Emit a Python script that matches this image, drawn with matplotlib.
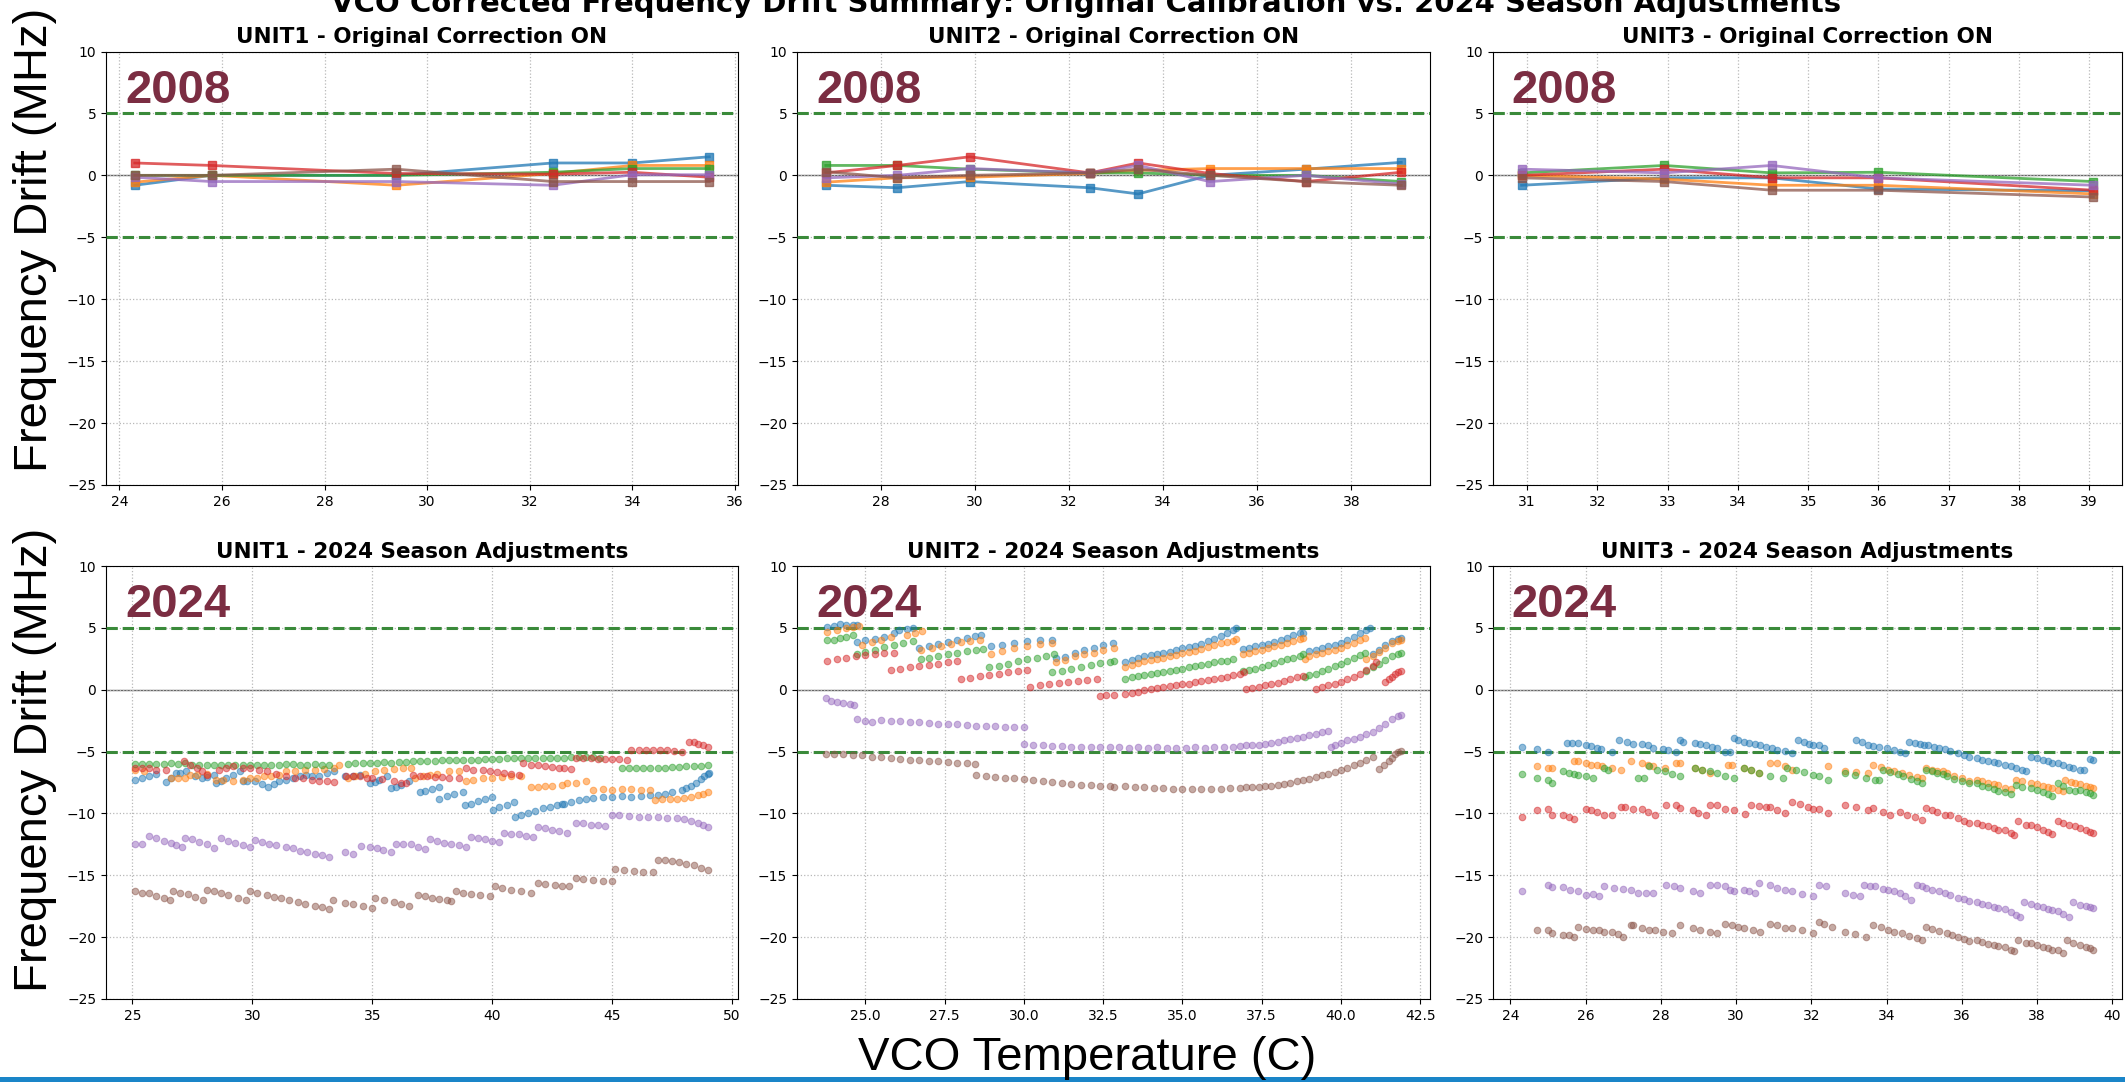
import matplotlib.pyplot as plt
from matplotlib.patches import Rectangle

W, H = 2125, 1082

UNITS = ['UNIT1', 'UNIT2', 'UNIT3']
CHANNEL_COLORS = ['tab:blue', 'tab:orange', 'tab:green', 'tab:red', 'tab:purple', 'tab:brown']

# --- 2008 original calibration, corrected drift at each temperature step ---
U1_2008_TEMP = [24.3, 25.8, 29.4, 32.45, 34.0, 35.5]
U1_2008_DRIFT = [
    [-0.8, 0.0, 0.0, 1.0, 1.0, 1.5],
    [-0.55, 0.0, -0.8, 0.15, 0.8, 0.8],
    [0.0, 0.0, 0.0, 0.25, 0.55, 0.55],
    [1.0, 0.8, 0.15, 0.1, 0.25, -0.15],
    [-0.15, -0.5, -0.5, -0.8, 0.05, 0.05],
    [0.0, 0.0, 0.5, -0.5, -0.5, -0.5],
]

U2_2008_TEMP = [26.83, 28.35, 29.89, 32.44, 33.47, 34.99, 37.03, 39.06]
U2_2008_DRIFT = [
    [-0.8, -1.0, -0.5, -1.0, -1.5, 0.0, 0.5, 1.05],
    [-0.55, -0.2, -0.15, 0.15, 0.4, 0.55, 0.55, 0.55],
    [0.8, 0.8, 0.5, 0.2, 0.2, 0.0, 0.0, -0.5],
    [0.2, 0.8, 1.5, 0.2, 1.0, 0.15, -0.5, 0.25],
    [-0.2, 0.0, 0.55, 0.2, 0.8, -0.5, 0.0, -0.7],
    [0.3, -0.2, 0.0, 0.2, 0.5, 0.0, -0.5, -0.8],
]

U3_2008_TEMP = [30.92, 32.95, 34.48, 36.0, 39.06]
U3_2008_DRIFT = [
    [-0.8, -0.2, -0.2, -1.1, -1.25],
    [0.0, -0.3, -0.8, -0.8, -1.5],
    [0.2, 0.8, 0.2, 0.25, -0.5],
    [0.0, 0.5, -0.2, -0.2, -1.2],
    [0.5, 0.2, 0.8, -0.2, -0.8],
    [-0.2, -0.5, -1.2, -1.2, -1.75],
]

# --- 2024 season logs: (VCO temperature, corrected drift) per channel ---
U1_2024_CH1 = [(25.1,-7.3),(25.4,-7.15),(25.7,-7.0),(26.0,-6.8),(26.4,-7.45),(26.6,-7.1),(26.8,-6.75),(27.0,-6.7),(27.25,-6.6),(27.6,-7.0),(27.9,-7.15),(28.1,-7.05),(28.4,-6.9),(28.5,-7.55),(28.7,-7.35),(28.9,-7.15),(29.2,-6.9),(29.5,-6.6),(29.6,-7.4),(29.8,-7.4),(30.1,-7.4),(30.4,-7.6),(30.65,-7.85),(30.9,-7.6),(31.1,-7.4),(31.4,-7.3),(31.7,-7.15),(32.0,-7.0),(32.25,-6.9),(32.5,-7.0),(32.8,-7.0),(33.1,-6.75),(33.4,-6.6),(33.85,-7.0),(34.2,-6.95),(34.5,-6.9),(34.9,-7.55),(35.1,-7.45),(35.3,-7.3),(35.6,-7.0),(35.8,-7.95),(36.0,-7.85),(36.2,-7.7),(36.55,-7.4),(37.0,-8.3),(37.2,-8.2),(37.5,-8.0),(37.8,-7.85),(37.8,-8.8),(38.1,-8.6),(38.4,-8.45),(38.8,-8.25),(38.85,-9.3),(39.1,-9.2),(39.4,-9.0),(39.7,-8.85),(40.0,-8.65),(40.05,-9.7),(40.3,-9.5),(40.6,-9.3),(40.9,-9.05),(40.95,-10.25),(41.2,-10.1),(41.5,-9.95),(41.8,-9.8),(42.1,-9.6),(42.4,-9.45),(42.7,-9.3),(42.9,-9.2),(43.0,-9.2),(43.3,-9.05),(43.6,-8.95),(43.9,-8.85),(44.2,-8.75),(44.6,-8.65),(45.0,-8.65),(45.4,-8.6),(45.8,-8.65),(46.2,-8.6),(46.6,-8.55),(46.9,-8.5),(47.2,-8.4),(47.5,-8.3),(47.9,-8.1),(48.1,-7.95),(48.3,-7.75),(48.5,-7.5),(48.7,-7.2),(48.85,-7.0),(49.0,-6.8),(49.05,-6.7)]
U1_2024_CH2 = [(25.1,-6.5),(25.5,-6.6),(26.6,-7.15),(26.9,-7.15),(27.2,-7.1),(27.4,-6.9),(27.7,-6.9),(28.1,-6.85),(28.5,-7.3),(28.8,-7.3),(29.2,-7.35),(29.6,-7.3),(29.9,-7.15),(30.2,-7.1),(30.5,-7.0),(30.8,-6.95),(31.1,-6.9),(31.4,-6.6),(31.8,-6.55),(32.2,-6.5),(32.6,-6.45),(33.0,-6.4),(33.4,-6.35),(33.6,-6.1),(34.0,-7.15),(34.3,-6.95),(34.7,-6.8),(35.1,-6.6),(35.5,-6.5),(35.9,-6.4),(36.3,-6.35),(36.6,-6.35),(36.8,-7.1),(37.1,-7.0),(37.4,-6.9),(37.7,-6.8),(38.2,-6.6),(38.6,-6.55),(38.9,-7.4),(39.2,-7.3),(39.6,-7.15),(40.0,-7.1),(40.4,-7.05),(40.8,-7.0),(41.2,-6.95),(41.6,-7.9),(41.9,-7.85),(42.2,-7.8),(42.5,-7.75),(42.9,-7.7),(43.1,-7.55),(43.5,-7.5),(43.9,-7.4),(44.2,-8.1),(44.6,-8.05),(45.0,-8.1),(45.4,-8.05),(45.8,-8.05),(46.2,-8.1),(46.6,-8.1),(46.8,-8.9),(47.1,-8.85),(47.4,-8.8),(47.7,-8.8),(48.0,-8.75),(48.3,-8.65),(48.6,-8.5),(48.8,-8.4),(49.0,-8.3)]
U1_2024_CH3 = [(25.1,-6.0),(25.4,-6.0),(25.7,-6.0),(26.0,-6.0),(26.3,-6.0),(26.6,-5.95),(26.9,-6.0),(27.2,-5.95),(27.5,-6.05),(27.8,-6.05),(28.1,-6.1),(28.4,-6.1),(28.7,-6.1),(29.0,-6.1),(29.3,-6.05),(29.6,-6.05),(29.9,-6.05),(30.2,-6.1),(30.5,-6.1),(30.8,-6.05),(31.1,-6.05),(31.4,-6.0),(31.7,-6.0),(32.0,-6.05),(32.3,-6.05),(32.6,-6.0),(32.9,-6.05),(33.2,-6.05),(34.0,-6.0),(34.3,-5.95),(34.6,-5.95),(34.9,-5.95),(35.2,-5.9),(35.5,-5.85),(35.8,-5.9),(36.1,-5.85),(36.4,-5.85),(36.7,-5.8),(37.0,-5.8),(37.3,-5.8),(37.6,-5.75),(37.9,-5.7),(38.2,-5.7),(38.5,-5.7),(38.8,-5.65),(39.1,-5.65),(39.4,-5.65),(39.7,-5.6),(40.0,-5.6),(40.3,-5.6),(40.6,-5.55),(40.9,-5.55),(41.2,-5.55),(41.5,-5.55),(41.8,-5.5),(42.1,-5.5),(42.4,-5.5),(42.7,-5.5),(43.0,-5.5),(43.3,-5.45),(43.6,-5.45),(43.9,-5.45),(44.2,-5.45),(44.5,-5.5),(45.4,-6.3),(45.7,-6.3),(46.0,-6.3),(46.3,-6.3),(46.6,-6.3),(46.9,-6.3),(47.2,-6.3),(47.5,-6.25),(47.8,-6.25),(48.1,-6.2),(48.4,-6.2),(48.7,-6.15),(49.0,-6.1)]
U1_2024_CH4 = [(25.1,-6.3),(25.4,-6.35),(25.7,-6.35),(26.0,-6.45),(26.4,-6.5),(27.15,-5.8),(27.4,-6.1),(27.7,-6.35),(27.9,-6.6),(28.1,-6.9),(28.6,-6.5),(28.9,-6.3),(29.2,-6.2),(29.6,-6.3),(29.9,-6.35),(30.3,-6.5),(30.6,-6.6),(31.0,-6.8),(31.4,-7.0),(31.8,-7.1),(32.1,-7.15),(32.5,-7.3),(32.8,-7.4),(33.1,-7.4),(33.4,-7.45),(33.9,-7.0),(34.2,-7.0),(34.5,-7.0),(34.8,-7.1),(35.0,-7.15),(35.4,-7.25),(35.9,-7.4),(36.2,-7.5),(36.4,-7.55),(36.7,-6.9),(37.0,-6.95),(37.3,-7.0),(37.6,-7.05),(37.9,-7.05),(38.2,-7.1),(38.6,-7.15),(38.9,-6.35),(39.2,-6.45),(39.6,-6.5),(39.9,-6.6),(40.2,-6.65),(40.5,-6.75),(40.8,-6.8),(41.1,-6.9),(41.3,-5.95),(41.6,-6.05),(41.9,-6.1),(42.2,-6.15),(42.5,-6.25),(42.8,-6.35),(43.0,-6.35),(43.3,-6.4),(43.5,-5.5),(43.8,-5.5),(44.1,-5.55),(44.4,-5.6),(44.7,-5.6),(45.0,-5.6),(45.3,-5.6),(45.6,-5.65),(45.8,-4.85),(46.1,-4.85),(46.4,-4.9),(46.7,-4.9),(47.0,-4.9),(47.3,-4.85),(47.6,-4.95),(47.9,-5.05),(48.2,-4.2),(48.4,-4.25),(48.6,-4.35),(48.8,-4.45),(49.0,-4.6)]
U1_2024_CH5 = [(25.1,-12.45),(25.4,-12.45),(25.7,-11.8),(26.0,-12.0),(26.3,-12.2),(26.6,-12.35),(26.8,-12.55),(27.05,-12.7),(27.2,-12.0),(27.5,-12.1),(27.8,-12.3),(28.1,-12.45),(28.4,-12.8),(28.7,-12.0),(29.0,-12.2),(29.3,-12.4),(29.6,-12.55),(29.9,-12.7),(30.1,-12.15),(30.4,-12.3),(30.7,-12.45),(31.0,-12.55),(31.4,-12.7),(31.7,-12.8),(32.0,-13.0),(32.3,-13.1),(32.6,-13.25),(32.9,-13.4),(33.2,-13.5),(33.85,-13.15),(34.2,-13.3),(34.55,-12.6),(34.9,-12.7),(35.2,-12.8),(35.45,-12.95),(35.8,-13.1),(36.0,-12.45),(36.3,-12.45),(36.6,-12.45),(36.9,-12.7),(37.2,-12.85),(37.4,-12.1),(37.7,-12.25),(38.0,-12.35),(38.3,-12.45),(38.6,-12.55),(38.9,-12.7),(39.1,-11.9),(39.4,-12.0),(39.7,-12.1),(40.0,-12.2),(40.3,-12.3),(40.5,-11.55),(40.8,-11.65),(41.1,-11.7),(41.4,-11.8),(41.7,-11.9),(41.9,-11.1),(42.2,-11.2),(42.5,-11.3),(42.8,-11.45),(43.1,-11.55),(43.5,-10.75),(43.8,-10.8),(44.1,-10.9),(44.4,-10.95),(44.7,-11.0),(45.0,-10.1),(45.3,-10.15),(45.7,-10.2),(46.1,-10.25),(46.5,-10.3),(46.9,-10.3),(47.3,-10.35),(47.7,-10.4),(48.0,-10.45),(48.3,-10.6),(48.6,-10.8),(48.8,-10.95),(49.0,-11.1)]
U1_2024_CH6 = [(25.1,-16.3),(25.4,-16.45),(25.7,-16.45),(26.0,-16.65),(26.3,-16.8),(26.55,-17.0),(26.7,-16.3),(27.0,-16.4),(27.3,-16.55),(27.6,-16.75),(27.95,-17.0),(28.1,-16.15),(28.4,-16.3),(28.7,-16.45),(29.0,-16.6),(29.4,-16.8),(29.75,-17.0),(29.9,-16.3),(30.2,-16.45),(30.6,-16.6),(30.9,-16.75),(31.2,-16.85),(31.55,-17.0),(31.9,-17.15),(32.2,-17.3),(32.6,-17.45),(32.9,-17.6),(33.2,-17.75),(33.35,-17.0),(33.85,-17.25),(34.2,-17.35),(34.6,-17.5),(35.0,-17.65),(35.1,-16.85),(35.5,-17.0),(35.9,-17.15),(36.2,-17.3),(36.55,-17.5),(36.9,-16.6),(37.2,-16.7),(37.5,-16.8),(37.8,-16.9),(38.1,-17.0),(38.3,-17.1),(38.5,-16.3),(38.8,-16.4),(39.1,-16.5),(39.5,-16.6),(39.9,-16.7),(40.1,-15.9),(40.4,-16.0),(40.8,-16.15),(41.2,-16.3),(41.6,-16.45),(41.9,-15.65),(42.2,-15.7),(42.6,-15.8),(42.9,-15.9),(43.2,-15.9),(43.5,-15.25),(43.8,-15.3),(44.2,-15.4),(44.6,-15.45),(45.0,-15.5),(45.1,-14.5),(45.5,-14.6),(45.9,-14.65),(46.3,-14.7),(46.7,-14.7),(46.9,-13.8),(47.2,-13.8),(47.5,-13.85),(47.8,-13.9),(48.1,-14.05),(48.4,-14.2),(48.7,-14.4),(49.0,-14.6)]

U2_2024_CH1 = [(23.8,5.1),(24.0,5.15),(24.2,5.3),(24.4,5.25),(24.6,5.25),(24.75,5.2),(24.75,3.85),(25.0,4.0),(25.3,4.1),(25.6,4.3),(25.9,4.55),(26.05,4.85),(26.3,4.9),(26.5,5.0),(26.7,3.4),(27.0,3.55),(27.3,3.7),(27.6,3.85),(27.9,4.0),(28.2,4.2),(28.45,4.35),(28.65,4.45),(28.95,3.5),(29.3,3.65),(29.7,3.8),(30.1,3.9),(30.5,4.0),(30.9,4.05),(31.0,2.6),(31.3,2.65),(31.6,3.0),(31.9,3.2),(32.2,3.4),(32.5,3.6),(32.8,3.8),(33.2,2.2),(33.4,2.4),(33.6,2.6),(33.8,2.7),(34.0,2.8),(34.2,2.85),(34.4,2.95),(34.6,3.05),(34.8,3.2),(35.0,3.35),(35.2,3.45),(35.4,3.55),(35.6,3.7),(35.8,3.9),(36.0,4.1),(36.2,4.35),(36.4,4.55),(36.6,4.8),(36.7,5.0),(36.9,3.3),(37.1,3.4),(37.3,3.5),(37.5,3.6),(37.7,3.7),(37.9,3.85),(38.1,4.0),(38.3,4.2),(38.5,4.4),(38.7,4.55),(38.8,4.6),(39.0,3.1),(39.2,3.2),(39.4,3.35),(39.6,3.5),(39.8,3.65),(40.0,3.8),(40.2,4.0),(40.4,4.3),(40.6,4.55),(40.8,4.8),(40.9,5.0),(41.0,2.9),(41.2,3.2),(41.4,3.6),(41.6,3.9),(41.8,4.1),(41.9,4.2)]
U2_2024_CH2 = [(23.8,4.65),(24.1,4.8),(24.4,5.0),(24.6,5.1),(24.8,5.15),(24.9,3.65),(25.2,3.85),(25.5,4.05),(25.8,4.3),(26.3,4.45),(26.55,4.6),(26.8,4.75),(26.75,3.25),(27.1,3.4),(27.4,3.55),(27.7,3.7),(28.0,3.85),(28.3,3.95),(28.6,4.05),(28.95,2.85),(29.3,3.1),(29.7,3.35),(30.1,3.55),(30.5,3.7),(30.9,3.8),(31.0,2.2),(31.3,2.4),(31.6,2.7),(31.9,2.85),(32.2,3.0),(32.5,3.2),(32.85,3.35),(33.2,1.8),(33.4,2.0),(33.6,2.15),(33.8,2.3),(34.0,2.4),(34.2,2.5),(34.4,2.6),(34.6,2.7),(34.8,2.8),(35.0,2.95),(35.2,3.05),(35.4,3.15),(35.6,3.3),(35.8,3.45),(36.0,3.6),(36.2,3.75),(36.4,3.85),(36.6,3.95),(36.7,4.1),(36.9,2.9),(37.1,3.0),(37.3,3.15),(37.5,3.25),(37.7,3.35),(37.9,3.5),(38.1,3.65),(38.3,3.8),(38.5,3.95),(38.7,4.1),(38.8,4.2),(38.85,2.5),(39.0,2.7),(39.2,2.85),(39.4,2.95),(39.6,3.1),(39.8,3.25),(40.0,3.4),(40.2,3.6),(40.4,3.8),(40.6,4.0),(40.75,4.2),(40.8,2.5),(41.0,2.75),(41.2,3.05),(41.4,3.4),(41.6,3.75),(41.8,3.95),(41.9,4.0)]
U2_2024_CH3 = [(23.8,4.0),(24.0,4.05),(24.2,4.15),(24.4,4.3),(24.6,4.4),(24.75,2.9),(25.0,3.05),(25.3,3.2),(25.6,3.45),(25.9,3.6),(26.2,3.75),(26.5,3.9),(26.75,2.45),(27.0,2.55),(27.3,2.7),(27.6,2.85),(27.9,3.0),(28.2,3.1),(28.5,3.2),(28.7,3.3),(28.9,1.8),(29.2,1.95),(29.5,2.1),(29.8,2.3),(30.1,2.45),(30.4,2.6),(30.7,2.75),(30.95,2.85),(30.9,1.4),(31.2,1.55),(31.5,1.7),(31.8,1.85),(32.1,2.0),(32.4,2.15),(32.7,2.25),(32.85,2.3),(33.2,0.9),(33.4,1.0),(33.6,1.1),(33.8,1.2),(34.0,1.3),(34.2,1.35),(34.4,1.45),(34.6,1.55),(34.8,1.6),(35.0,1.7),(35.2,1.8),(35.4,1.9),(35.6,2.0),(35.8,2.1),(36.0,2.2),(36.2,2.3),(36.4,2.35),(36.6,2.45),(36.9,1.5),(37.1,1.6),(37.3,1.7),(37.5,1.85),(37.7,2.0),(37.9,2.15),(38.1,2.3),(38.3,2.45),(38.5,2.6),(38.7,2.75),(38.8,2.85),(38.85,1.0),(39.0,1.15),(39.2,1.3),(39.4,1.5),(39.6,1.7),(39.8,1.9),(40.0,2.1),(40.2,2.35),(40.4,2.6),(40.6,2.8),(40.75,3.0),(40.8,1.5),(41.0,1.8),(41.2,2.1),(41.4,2.4),(41.6,2.7),(41.8,2.9),(41.9,3.0)]
U2_2024_CH4 = [(23.8,2.3),(24.1,2.45),(24.4,2.6),(24.7,2.7),(25.0,2.8),(25.3,2.9),(25.6,2.95),(25.9,3.0),(25.8,1.6),(26.1,1.7),(26.4,1.8),(26.7,1.9),(27.0,2.0),(27.3,2.1),(27.6,2.2),(27.9,2.3),(28.0,0.85),(28.3,0.95),(28.6,1.1),(28.9,1.2),(29.2,1.3),(29.5,1.4),(29.8,1.5),(30.1,1.6),(30.2,0.25),(30.5,0.35),(30.8,0.45),(31.1,0.55),(31.4,0.6),(31.7,0.7),(32.0,0.8),(32.3,0.85),(32.4,-0.5),(32.6,-0.45),(32.85,-0.45),(33.2,-0.35),(33.4,-0.25),(33.6,-0.15),(33.8,-0.05),(34.0,0.05),(34.2,0.1),(34.4,0.2),(34.6,0.3),(34.8,0.35),(35.0,0.45),(35.2,0.5),(35.4,0.6),(35.6,0.7),(35.8,0.8),(36.0,0.85),(36.2,0.95),(36.4,1.05),(36.6,1.15),(36.8,1.3),(36.95,1.45),(37.0,0.05),(37.2,0.15),(37.4,0.25),(37.6,0.35),(37.8,0.45),(38.0,0.55),(38.2,0.7),(38.4,0.85),(38.6,1.0),(38.8,1.1),(39.2,0.05),(39.4,0.2),(39.6,0.35),(39.8,0.5),(40.0,0.65),(40.2,0.85),(40.4,1.05),(40.6,1.3),(40.8,1.6),(41.0,1.9),(41.1,2.2),(41.4,0.6),(41.5,0.85),(41.6,1.0),(41.7,1.25),(41.8,1.4),(41.9,1.5)]
U2_2024_CH5 = [(23.75,-0.7),(23.9,-0.95),(24.1,-1.0),(24.3,-1.05),(24.5,-1.15),(24.65,-1.2),(24.75,-2.4),(25.0,-2.5),(25.2,-2.6),(25.5,-2.45),(25.8,-2.5),(26.1,-2.55),(26.4,-2.6),(26.7,-2.65),(27.0,-2.7),(27.3,-2.75),(27.6,-2.8),(27.9,-2.8),(28.2,-2.85),(28.5,-2.9),(28.8,-2.9),(29.1,-2.95),(29.4,-3.0),(29.7,-3.0),(30.0,-3.05),(30.0,-4.4),(30.3,-4.45),(30.6,-4.5),(30.9,-4.55),(31.2,-4.55),(31.5,-4.6),(31.8,-4.6),(32.1,-4.65),(32.4,-4.6),(32.7,-4.65),(33.0,-4.65),(33.3,-4.7),(33.6,-4.65),(33.9,-4.7),(34.2,-4.65),(34.5,-4.7),(34.8,-4.7),(35.1,-4.7),(35.4,-4.65),(35.7,-4.7),(36.0,-4.65),(36.3,-4.65),(36.6,-4.6),(36.8,-4.55),(37.0,-4.5),(37.2,-4.5),(37.4,-4.45),(37.6,-4.4),(37.8,-4.3),(38.0,-4.2),(38.2,-4.1),(38.4,-4.0),(38.6,-3.9),(38.8,-3.8),(39.0,-3.7),(39.2,-3.55),(39.4,-3.4),(39.6,-3.3),(39.7,-4.6),(39.8,-4.5),(40.0,-4.3),(40.2,-4.1),(40.4,-4.0),(40.6,-3.8),(40.8,-3.6),(41.0,-3.4),(41.2,-3.1),(41.4,-2.8),(41.6,-2.4),(41.8,-2.1),(41.9,-2.05)]
U2_2024_CH6 = [(23.75,-5.2),(24.0,-5.2),(24.3,-5.2),(24.6,-5.3),(24.9,-5.3),(25.2,-5.4),(25.5,-5.45),(25.8,-5.5),(26.1,-5.6),(26.4,-5.7),(26.7,-5.7),(27.0,-5.75),(27.3,-5.75),(27.6,-5.85),(27.9,-5.95),(28.2,-5.95),(28.45,-6.0),(28.5,-6.9),(28.8,-7.0),(29.1,-7.05),(29.4,-7.1),(29.7,-7.15),(30.0,-7.2),(30.3,-7.3),(30.6,-7.4),(30.9,-7.45),(31.2,-7.55),(31.5,-7.6),(31.8,-7.7),(32.1,-7.7),(32.4,-7.75),(32.7,-7.8),(32.85,-7.85),(33.2,-7.8),(33.5,-7.85),(33.8,-7.9),(34.1,-7.95),(34.4,-7.95),(34.7,-8.0),(35.0,-8.0),(35.3,-8.0),(35.6,-8.0),(35.9,-8.0),(36.2,-8.0),(36.5,-7.95),(36.8,-7.95),(37.0,-7.9),(37.2,-7.9),(37.4,-7.85),(37.6,-7.8),(37.8,-7.75),(38.0,-7.7),(38.2,-7.6),(38.4,-7.5),(38.6,-7.4),(38.8,-7.3),(39.0,-7.2),(39.2,-7.05),(39.4,-6.9),(39.6,-6.8),(39.8,-6.65),(40.0,-6.5),(40.2,-6.3),(40.4,-6.1),(40.6,-5.9),(40.8,-5.65),(41.0,-5.4),(41.2,-6.4),(41.35,-6.1),(41.5,-5.8),(41.6,-5.5),(41.7,-5.2),(41.8,-5.0),(41.9,-4.95)]

U3_2024_CH1 = [(24.3,-4.6),(24.7,-4.8),(25.0,-5.0),(25.5,-4.3),(25.65,-4.3),(25.8,-4.3),(26.0,-4.45),(26.15,-4.55),(26.3,-4.7),(26.4,-4.8),(26.7,-5.0),(26.9,-4.1),(27.1,-4.2),(27.25,-4.35),(27.5,-4.35),(27.65,-4.5),(27.8,-4.75),(28.05,-4.8),(28.2,-4.85),(28.4,-5.0),(28.5,-4.1),(28.6,-4.2),(28.9,-4.3),(29.05,-4.4),(29.2,-4.5),(29.35,-4.6),(29.5,-4.75),(29.7,-5.0),(29.85,-5.0),(29.95,-3.9),(30.05,-4.05),(30.2,-4.2),(30.35,-4.3),(30.5,-4.4),(30.65,-4.5),(30.8,-4.6),(30.95,-4.75),(31.1,-4.85),(31.3,-4.95),(31.5,-5.1),(31.65,-4.1),(31.8,-4.2),(31.95,-4.35),(32.05,-4.45),(32.2,-4.5),(32.35,-4.7),(33.2,-4.1),(33.35,-4.25),(33.5,-4.5),(33.65,-4.55),(33.8,-4.6),(34.0,-4.75),(34.2,-4.9),(34.35,-5.0),(34.5,-5.1),(34.6,-4.2),(34.75,-4.3),(34.9,-4.4),(35.0,-4.45),(35.1,-4.5),(35.25,-4.6),(35.4,-4.7),(35.55,-4.8),(35.7,-4.95),(35.9,-5.1),(36.05,-5.25),(36.2,-5.4),(36.4,-5.55),(36.55,-5.65),(36.7,-5.75),(36.85,-5.85),(36.97,-5.95),(37.15,-6.1),(37.3,-6.2),(37.45,-6.35),(37.6,-6.5),(37.7,-6.6),(37.85,-5.4),(38.0,-5.55),(38.15,-5.7),(38.3,-5.8),(38.4,-5.95),(38.55,-5.95),(38.7,-6.1),(38.85,-6.25),(38.95,-6.35),(39.15,-6.45),(39.25,-6.5),(39.4,-5.6),(39.5,-5.65)]
U3_2024_CH2 = [(24.7,-6.15),(25.0,-6.3),(25.1,-6.3),(25.7,-5.8),(25.8,-5.8),(26.0,-5.95),(26.15,-6.05),(26.3,-6.1),(26.45,-6.2),(26.7,-6.35),(26.95,-6.5),(27.2,-5.8),(27.5,-5.95),(27.65,-6.05),(27.8,-6.2),(28.1,-6.35),(28.4,-5.95),(28.5,-5.95),(28.9,-6.35),(29.1,-6.5),(29.3,-6.75),(29.8,-6.1),(29.9,-6.1),(30.2,-6.35),(30.4,-6.5),(30.6,-6.75),(30.9,-5.95),(31.1,-5.95),(31.3,-6.2),(31.5,-6.45),(32.45,-6.15),(32.9,-6.6),(33.2,-6.65),(33.5,-6.75),(33.65,-6.1),(33.85,-6.25),(34.05,-6.45),(34.2,-6.6),(34.4,-6.75),(34.6,-6.9),(34.8,-7.05),(34.95,-7.15),(35.05,-6.35),(35.2,-6.45),(35.35,-6.55),(35.5,-6.6),(35.6,-6.75),(35.8,-6.95),(36.0,-7.15),(36.2,-7.4),(36.4,-7.3),(36.55,-7.4),(36.7,-7.5),(36.85,-7.6),(36.97,-7.7),(37.15,-7.95),(37.3,-8.05),(37.45,-7.3),(37.6,-7.4),(37.85,-7.55),(38.0,-7.65),(38.15,-7.75),(38.3,-7.85),(38.4,-7.95),(38.55,-8.1),(38.7,-8.2),(38.75,-7.3),(38.9,-7.45),(39.0,-7.55),(39.15,-7.6),(39.3,-7.75),(39.4,-7.85),(39.5,-7.95)]
U3_2024_CH3 = [(24.3,-6.8),(24.7,-7.15),(25.0,-7.3),(25.1,-7.5),(25.4,-6.6),(25.55,-6.7),(25.7,-6.8),(25.8,-6.9),(26.0,-7.0),(26.2,-7.15),(26.5,-6.35),(26.6,-6.5),(27.4,-7.15),(27.55,-7.15),(27.7,-6.2),(27.9,-6.45),(28.1,-6.6),(28.3,-6.8),(28.5,-7.0),(28.9,-6.35),(29.1,-6.45),(29.3,-6.55),(29.5,-6.75),(29.7,-7.0),(29.95,-7.15),(30.2,-6.35),(30.4,-6.5),(30.6,-6.75),(30.9,-7.0),(31.25,-7.15),(31.35,-6.35),(31.6,-6.5),(31.8,-6.65),(32.05,-6.9),(32.2,-7.0),(32.45,-7.3),(32.9,-6.75),(33.15,-6.9),(33.45,-7.15),(33.7,-7.3),(33.8,-7.3),(33.9,-6.5),(34.1,-6.65),(34.3,-6.8),(34.45,-7.0),(34.65,-7.2),(34.8,-7.4),(34.95,-7.55),(35.05,-6.5),(35.2,-6.6),(35.35,-6.7),(35.5,-6.85),(35.6,-7.0),(35.8,-7.2),(36.0,-7.35),(36.2,-7.55),(36.4,-7.55),(36.55,-7.75),(36.7,-7.9),(36.85,-8.05),(36.97,-8.2),(37.15,-8.25),(37.3,-8.4),(37.45,-7.7),(37.6,-7.85),(37.85,-7.95),(38.0,-8.1),(38.15,-8.3),(38.3,-8.45),(38.4,-8.6),(38.55,-7.55),(38.7,-7.8),(38.85,-8.1),(39.0,-8.2),(39.15,-8.1),(39.3,-8.25),(39.4,-8.35),(39.5,-8.5)]
U3_2024_CH4 = [(24.3,-10.3),(24.7,-9.75),(25.0,-9.65),(25.1,-10.1),(25.4,-10.1),(25.55,-10.3),(25.7,-10.45),(26.0,-9.65),(26.15,-9.75),(26.3,-9.9),(26.5,-10.1),(26.7,-10.1),(26.95,-9.45),(27.05,-9.45),(27.25,-9.65),(27.5,-9.65),(27.65,-9.85),(27.85,-10.1),(28.15,-9.3),(28.4,-9.3),(28.5,-9.6),(28.85,-9.75),(29.0,-9.95),(29.2,-10.1),(29.3,-9.3),(29.5,-9.3),(29.7,-9.65),(29.95,-9.75),(30.25,-10.05),(30.4,-9.3),(30.6,-9.4),(30.8,-9.5),(30.9,-9.5),(31.1,-9.75),(31.3,-10.0),(31.5,-9.1),(31.7,-9.25),(31.9,-9.45),(32.05,-9.65),(32.2,-9.65),(32.45,-9.95),(32.9,-9.3),(33.2,-9.5),(33.5,-9.75),(33.65,-9.6),(33.9,-9.85),(34.1,-10.1),(34.35,-9.85),(34.55,-10.1),(34.75,-10.3),(34.95,-10.5),(35.05,-9.6),(35.2,-9.75),(35.35,-9.9),(35.55,-10.1),(35.7,-10.15),(35.9,-10.4),(36.05,-10.6),(36.2,-10.8),(36.4,-10.8),(36.55,-10.95),(36.7,-11.05),(36.85,-11.2),(36.97,-11.3),(37.15,-11.35),(37.3,-11.6),(37.4,-11.75),(37.5,-10.65),(37.7,-10.9),(37.85,-10.95),(38.0,-11.1),(38.15,-11.3),(38.3,-11.5),(38.4,-11.7),(38.55,-10.65),(38.7,-10.8),(38.85,-10.95),(39.0,-11.05),(39.15,-11.2),(39.3,-11.35),(39.4,-11.5),(39.5,-11.6)]
U3_2024_CH5 = [(24.3,-16.3),(25.0,-15.8),(25.1,-15.95),(25.4,-15.95),(25.6,-16.15),(25.8,-16.3),(26.0,-16.6),(26.2,-16.5),(26.35,-16.7),(26.5,-15.9),(26.75,-16.0),(27.0,-16.1),(27.2,-16.2),(27.4,-16.45),(27.6,-16.45),(27.8,-16.45),(28.15,-15.8),(28.35,-15.9),(28.5,-16.05),(28.85,-16.3),(29.05,-16.45),(29.3,-15.8),(29.5,-15.8),(29.7,-15.9),(29.85,-16.15),(29.95,-16.3),(30.2,-16.2),(30.35,-16.3),(30.5,-16.45),(30.6,-15.65),(30.9,-15.8),(31.1,-16.0),(31.3,-16.2),(31.5,-16.3),(31.75,-16.5),(32.05,-16.7),(32.2,-15.8),(32.4,-15.9),(32.9,-16.45),(33.1,-16.6),(33.3,-16.7),(33.4,-15.8),(33.55,-15.9),(33.7,-15.9),(33.9,-16.1),(34.05,-16.2),(34.2,-16.3),(34.35,-16.45),(34.5,-16.7),(34.65,-17.0),(34.8,-15.8),(34.95,-15.9),(35.05,-16.05),(35.2,-16.15),(35.4,-16.3),(35.55,-16.45),(35.7,-16.6),(35.9,-16.8),(36.05,-16.95),(36.2,-17.1),(36.4,-17.15),(36.55,-17.3),(36.7,-17.4),(36.85,-17.55),(36.97,-17.65),(37.15,-17.7),(37.3,-17.95),(37.45,-18.2),(37.55,-18.35),(37.65,-17.15),(37.85,-17.3),(38.0,-17.45),(38.15,-17.6),(38.3,-17.7),(38.4,-17.8),(38.55,-17.85),(38.7,-18.1),(38.85,-18.4),(38.95,-17.15),(39.15,-17.4),(39.3,-17.5),(39.4,-17.6),(39.5,-17.65)]
U3_2024_CH6 = [(24.7,-19.45),(25.0,-19.45),(25.1,-19.65),(25.4,-19.8),(25.55,-19.85),(25.7,-19.95),(25.8,-19.15),(26.0,-19.35),(26.2,-19.4),(26.35,-19.45),(26.5,-19.55),(26.7,-19.55),(26.85,-19.75),(27.0,-19.95),(27.2,-19.0),(27.25,-19.0),(27.5,-19.3),(27.7,-19.4),(27.85,-19.4),(28.05,-19.55),(28.3,-19.7),(28.5,-19.0),(28.85,-19.3),(29.05,-19.4),(29.3,-19.55),(29.5,-19.65),(29.7,-18.9),(29.9,-19.05),(30.05,-19.15),(30.2,-19.3),(30.45,-19.4),(30.65,-19.55),(30.9,-18.9),(31.1,-19.05),(31.3,-19.3),(31.5,-19.3),(31.75,-19.45),(32.05,-19.7),(32.2,-18.75),(32.35,-18.9),(32.55,-19.15),(32.9,-19.55),(33.15,-19.75),(33.45,-19.95),(33.65,-19.0),(33.85,-19.2),(34.05,-19.4),(34.2,-19.55),(34.4,-19.65),(34.6,-19.9),(34.8,-20.1),(34.95,-20.25),(35.05,-19.2),(35.2,-19.35),(35.4,-19.5),(35.6,-19.7),(35.75,-19.85),(35.9,-20.0),(36.05,-20.15),(36.2,-20.35),(36.4,-20.25),(36.55,-20.4),(36.7,-20.55),(36.85,-20.65),(36.97,-20.75),(37.15,-20.8),(37.3,-21.0),(37.4,-21.15),(37.5,-20.25),(37.7,-20.45),(37.85,-20.5),(38.0,-20.65),(38.15,-20.8),(38.3,-20.9),(38.4,-21.05),(38.55,-21.05),(38.7,-21.25),(38.8,-20.25),(38.95,-20.45),(39.15,-20.65),(39.3,-20.8),(39.4,-20.9),(39.5,-21.0)]

ORIGINAL = [
    (U1_2008_TEMP, U1_2008_DRIFT),
    (U2_2008_TEMP, U2_2008_DRIFT),
    (U3_2008_TEMP, U3_2008_DRIFT),
]
SEASON = [
    [U1_2024_CH1, U1_2024_CH2, U1_2024_CH3, U1_2024_CH4, U1_2024_CH5, U1_2024_CH6],
    [U2_2024_CH1, U2_2024_CH2, U2_2024_CH3, U2_2024_CH4, U2_2024_CH5, U2_2024_CH6],
    [U3_2024_CH1, U3_2024_CH2, U3_2024_CH3, U3_2024_CH4, U3_2024_CH5, U3_2024_CH6],
]

LIMIT = 5.0
YEAR_COLOR = '#7b2d42'
SLIDE_FONT = ['Liberation Sans', 'DejaVu Sans']

# pixel frames of the six panels (left, top, width, height)
COL_X = [(106, 632), (797, 633), (1493, 629)]
ROW_Y = [(51.5, 433.5), (566, 433)]


def frame(col, row):
    left, width = COL_X[col]
    top, height = ROW_Y[row]
    return [left / W, 1 - (top + height) / H, width / W, height / H]


def decorate(ax, title, year):
    ax.set_ylim(-25, 10)
    ax.axhline(0, color='black', linewidth=1.0, alpha=0.6, zorder=1)
    for lim in (LIMIT, -LIMIT):
        ax.axhline(lim, color='#3a8a3a', linestyle='--', linewidth=2.2, zorder=3)
    ax.grid(True, linestyle=':', color='#b8b8b8', linewidth=0.9)
    ax.set_title(title, fontsize=15.5, fontweight='bold', pad=6)
    ax.tick_params(labelsize=10)
    ax.text(0.03, 0.882, year, transform=ax.transAxes, fontsize=34,
            fontweight='bold', color=YEAR_COLOR, family=SLIDE_FONT, va='baseline')


fig = plt.figure(figsize=(W / 100, H / 100), dpi=100)

for col, unit in enumerate(UNITS):
    ax = fig.add_axes(frame(col, 0))
    temps, drifts = ORIGINAL[col]
    for color, drift in zip(CHANNEL_COLORS, drifts):
        ax.plot(temps, drift, marker='s', markersize=6, linewidth=2,
                color=color, alpha=0.75, zorder=4)
    decorate(ax, f'{unit} - Original Correction ON', '2008')

    ax = fig.add_axes(frame(col, 1))
    for color, pts in zip(CHANNEL_COLORS, SEASON[col]):
        xs = [p[0] for p in pts]
        ys = [p[1] for p in pts]
        ax.scatter(xs, ys, s=22, color=color, alpha=0.5, linewidths=0.8, zorder=4)
    decorate(ax, f'{unit} - 2024 Season Adjustments', '2024')

fig.text(1086 / W, 1 - 12 / H,
         'VCO Corrected Frequency Drift Summary: Original Calibration vs. 2024 Season Adjustments',
         fontsize=21, fontweight='bold', ha='center', va='baseline')

for center in (240, 760):
    fig.text(35 / W, 1 - center / H, 'Frequency Drift (MHz)', rotation=90,
             fontsize=34, family=SLIDE_FONT, ha='center', va='center')
fig.text(1087 / W, 1 - 1070 / H, 'VCO Temperature (C)', fontsize=34,
         family=SLIDE_FONT, ha='center', va='baseline')

fig.add_artist(Rectangle((0, 0), 1, 5 / H, transform=fig.transFigure,
                         color='#1a85c8', linewidth=0))

fig.savefig('out.png', dpi=100)
